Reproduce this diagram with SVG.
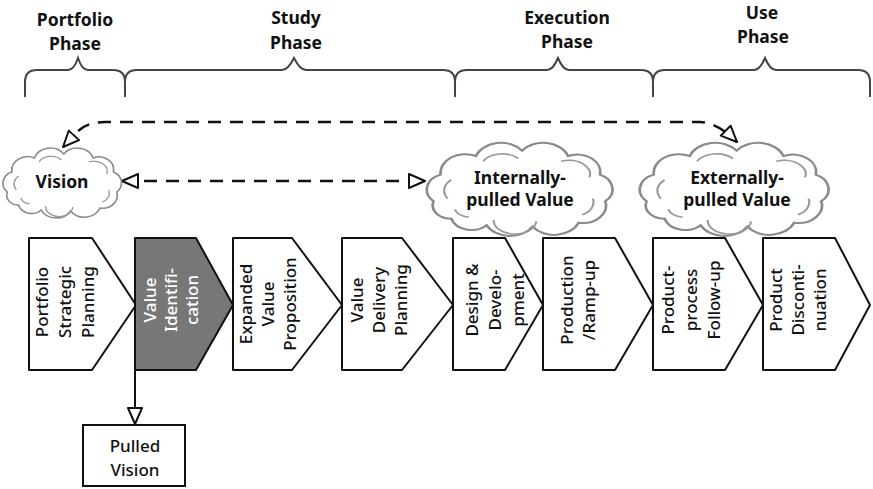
<svg xmlns="http://www.w3.org/2000/svg" width="873" height="489" viewBox="0 0 873 489">
<style>
.lbl{font-family:"Noto Sans","DejaVu Sans",sans-serif;font-size:17.5px;font-weight:bold;fill:#111;text-anchor:middle}
.ct{font-family:"Noto Sans","DejaVu Sans",sans-serif;font-size:17px;font-weight:500;fill:#111;text-anchor:middle;dominant-baseline:central}
.brace{fill:none;stroke:#444;stroke-width:2}
.chev{fill:#fff;stroke:#111;stroke-width:2;stroke-linejoin:round}
.cloud{fill:#fff;stroke:#8a8a8a;stroke-width:1.5;vector-effect:non-scaling-stroke}
.cloud2{fill:none;stroke:#9a9a9a;stroke-width:1.2;vector-effect:non-scaling-stroke}
.dash{fill:none;stroke:#111;stroke-width:2.5;stroke-dasharray:13 9}
.box{fill:#fff;stroke:#111;stroke-width:2}
</style>
<defs>
<marker id="ah" viewBox="0 0 18 16" refX="17" refY="8" markerWidth="18" markerHeight="16" markerUnits="userSpaceOnUse" orient="auto-start-reverse">
<path d="M1,1 L17,8 L1,15 Z" fill="#fff" stroke="#111" stroke-width="2" stroke-dasharray="none" stroke-linejoin="round"/>
</marker>
<path id="cloudShape" d="M2,40 A12,12 0 0 1 6,20 A14,14 0 0 1 26,6 A15,15 0 0 1 52,2 A15,15 0 0 1 78,6 A13,13 0 0 1 96,20 A12,12 0 0 1 99,40 A13,13 0 0 1 84,56 A15,15 0 0 1 58,59 A15,15 0 0 1 32,58 A12,12 0 0 1 12,53 A10,10 0 0 1 2,40 Z"/>
<path id="cloudInner" d="M10,38 A10,10 0 0 1 12,24 M30,10 A12,10 0 0 1 50,8 M74,10 A12,10 0 0 1 90,22 M92,38 A10,10 0 0 1 86,50 M60,55 A12,10 0 0 1 36,54 M22,52 A10,8 0 0 1 14,46"/>
</defs>

<g id="braces">
<path class="brace" d="M25,97 L25,82 Q25,70 37,70 L68,70 Q74,70 78,58 Q82,70 88,70 L113,70 Q125,70 125,82 L125,97"/>
<path class="brace" d="M125,97 L125,82 Q125,70 137,70 L282,70 Q288,70 294,58 Q300,70 306,70 L443,70 Q455,70 455,82 L455,97"/>
<path class="brace" d="M455,97 L455,82 Q455,70 467,70 L547,70 Q553,70 558,58 Q563,70 569,70 L641,70 Q653,70 653,82 L653,97"/>
<path class="brace" d="M653,97 L653,82 Q653,70 665,70 L754,70 Q760,70 765,58 Q770,70 776,70 L858,70 Q870,70 870,82 L870,97"/>
</g>

<g id="phase-labels">
<text class="lbl" x="75" y="26">Portfolio</text>
<text class="lbl" x="75" y="50">Phase</text>
<text class="lbl" x="296" y="24">Study</text>
<text class="lbl" x="296" y="49">Phase</text>
<text class="lbl" x="567" y="24">Execution</text>
<text class="lbl" x="567" y="48">Phase</text>
<text class="lbl" x="762" y="19">Use</text>
<text class="lbl" x="763" y="43">Phase</text>
</g>

<g id="connectors">
<path class="dash" d="M63,147 L78,131 Q88,122 105,122 L700,122 Q718,123 737,142" marker-start="url(#ah)" marker-end="url(#ah)"/>
<path class="dash" d="M122,181 L425,181" marker-start="url(#ah)" marker-end="url(#ah)"/>
<path fill="none" stroke="#111" stroke-width="2" d="M135,371 L135,424" marker-end="url(#ah)"/>
</g>

<g id="vision">
<g transform="translate(5,152) scale(1.13,1)"><use href="#cloudShape" class="cloud"/><use href="#cloudInner" class="cloud2"/></g>
<text class="lbl" x="62" y="188">Vision</text>
</g>
<g id="internally-pulled-value">
<g transform="translate(430,148) scale(1.77,1.333)"><use href="#cloudShape" class="cloud"/><use href="#cloudInner" class="cloud2"/></g>
<text class="lbl" x="520" y="184">Internally-</text>
<text class="lbl" x="520" y="206">pulled Value</text>
</g>
<g id="externally-pulled-value">
<g transform="translate(643,148) scale(1.8,1.333)"><use href="#cloudShape" class="cloud"/><use href="#cloudInner" class="cloud2"/></g>
<text class="lbl" x="737" y="184">Externally-</text>
<text class="lbl" x="737" y="206">pulled Value</text>
</g>

<g id="portfolio-strategic-planning">
<polygon class="chev" points="29,238 92,238 136,305 92,370 29,370"/>
<text class="ct" transform="translate(64,302) rotate(-90)"><tspan x="0" y="-23">Portfolio</tspan><tspan x="0" y="0">Strategic</tspan><tspan x="0" y="23">Planning</tspan></text>
</g>
<g id="value-identification">
<polygon class="chev" style="fill:#777" points="135,238 196,238 233,305 196,370 135,370"/>
<text class="ct" style="fill:#fff" transform="translate(170,300) rotate(-90)"><tspan x="0" y="-21">Value</tspan><tspan x="0" y="0">Identifi-</tspan><tspan x="0" y="21">cation</tspan></text>
</g>
<g id="expanded-value-proposition">
<polygon class="chev" points="233,238 292,238 342,305 292,370 233,370"/>
<text class="ct" transform="translate(267,304) rotate(-90)"><tspan x="0" y="-22">Expanded</tspan><tspan x="0" y="0">Value</tspan><tspan x="0" y="22">Proposition</tspan></text>
</g>
<g id="value-delivery-planning">
<polygon class="chev" points="342,238 402,238 453,305 402,370 342,370"/>
<text class="ct" transform="translate(378,300) rotate(-90)"><tspan x="0" y="-22">Value</tspan><tspan x="0" y="0">Delivery</tspan><tspan x="0" y="22">Planning</tspan></text>
</g>
<g id="design-development">
<polygon class="chev" points="453,238 505,238 543,305 505,370 453,370"/>
<text class="ct" transform="translate(494,300) rotate(-90)"><tspan x="0" y="-23">Design &amp;</tspan><tspan x="0" y="0">Develo-</tspan><tspan x="0" y="23">pment</tspan></text>
</g>
<g id="production-ramp-up">
<polygon class="chev" points="543,238 615,238 653,305 615,370 543,370"/>
<text class="ct" transform="translate(577,300) rotate(-90)"><tspan x="0" y="-11">Production</tspan><tspan x="0" y="11">/Ramp-up</tspan></text>
</g>
<g id="product-process-follow-up">
<polygon class="chev" points="653,238 725,238 763,305 725,370 653,370"/>
<text class="ct" transform="translate(690,300) rotate(-90)"><tspan x="0" y="-23">Product-</tspan><tspan x="0" y="0">process</tspan><tspan x="0" y="23">Follow-up</tspan></text>
</g>
<g id="product-discontinuation">
<polygon class="chev" points="763,238 835,238 870,305 835,370 763,370"/>
<text class="ct" transform="translate(797,300) rotate(-90)"><tspan x="0" y="-22">Product</tspan><tspan x="0" y="0">Disconti-</tspan><tspan x="0" y="22">nuation</tspan></text>
</g>

<g id="pulled-vision">
<rect class="box" x="83" y="425" width="102" height="61"/>
<text class="ct" x="135" y="445">Pulled</text>
<text class="ct" x="135" y="469">Vision</text>
</g>
</svg>
